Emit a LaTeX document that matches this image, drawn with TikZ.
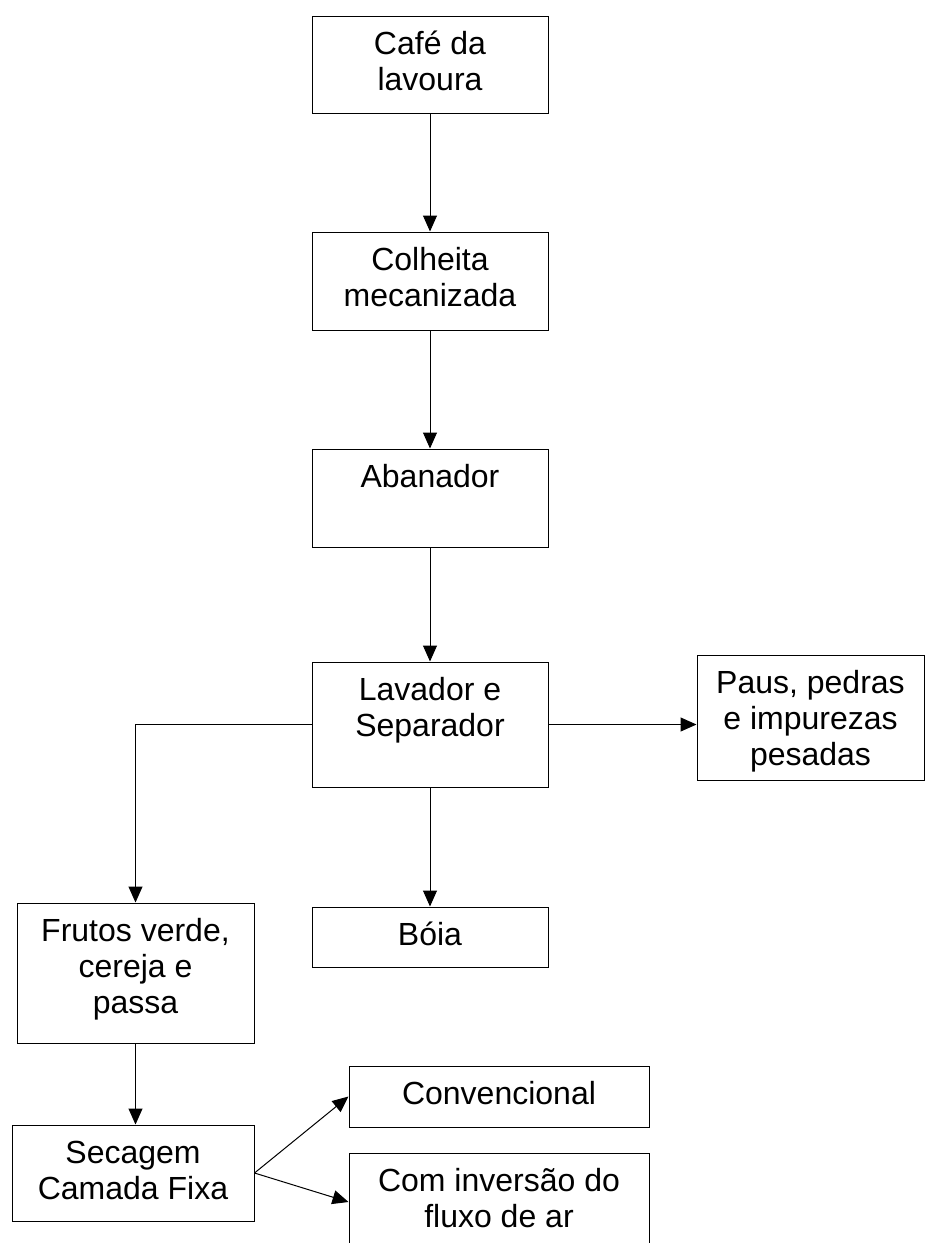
\documentclass[tikz,border=0pt]{standalone}
\usepackage{fontspec}
\setmainfont{Liberation Sans}
\usetikzlibrary{arrows.meta}
\newcommand{\boxfont}{\fontsize{32}{36}\selectfont}
\tikzset{
  blk/.style 2 args={draw, line width=1pt, inner sep=0pt,
    minimum width=#1, minimum height=#2},
  % text set from the top of the box; #1 is the shift of the last baseline
  % (first baseline 39pt below the top edge, lines 36pt apart)
  txt/.style 2 args={label={[anchor=base, align=center, inner sep=0pt,
    yshift=#1, font=\boxfont]north:{#2}}},
  arr/.style={line width=1pt, -{Triangle[length=16pt,width=14pt]}}
}
\begin{document}
\begin{tikzpicture}[x=1pt, y=-1pt]
\useasboundingbox (0,0) rectangle (925,1243);

% main column
\node[blk={236pt}{97pt}, txt={-75pt}{Café da\\lavoura}]          (cafe) at (430,64.5) {};
\node[blk={236pt}{98pt}, txt={-75pt}{Colheita\\mecanizada}]      (colh) at (430,281)  {};
\node[blk={236pt}{98pt}, txt={-39pt}{Abanador}]                  (aban) at (430,498)  {};
\node[blk={236pt}{125pt}, txt={-75pt}{Lavador e\\Separador}]     (lav)  at (430,724.5) {};
\node[blk={236pt}{60pt}, txt={-39pt}{Bóia}]                      (boia) at (430,937)  {};

% side branches
\node[blk={227pt}{125pt}, txt={-111pt}{Paus, pedras\\e impurezas\\pesadas}] (paus) at (810.5,717.5) {};
\node[blk={237pt}{140pt}, txt={-111pt}{Frutos verde,\\cereja e\\passa}]     (frut) at (135.5,973) {};
\node[blk={242pt}{96pt}, txt={-75pt}{Secagem\\Camada Fixa}]                 (sec)  at (133,1173) {};

% drying variants
\node[blk={300pt}{61pt}, txt={-39pt}{Convencional}]                  (conv) at (499,1096.5) {};
\node[blk={300pt}{120pt}, txt={-75pt}{Com inversão do\\fluxo de ar}] (inv)  at (499,1213) {};

% flow
\draw[arr] (cafe) -- (colh);
\draw[arr] (colh) -- (aban);
\draw[arr] (aban) -- (lav);
\draw[arr] (lav) -- (boia);
\draw[arr] (lav.east) -- (lav.east -| paus.west);
\draw[arr] (lav.west) -| (frut.north);
\draw[arr] (frut.south) -- (frut.south |- sec.north);
\draw[arr] (sec.east) -- (conv.west);
\draw[arr] (sec.east) -- ([yshift=11pt]inv.west);
\end{tikzpicture}
\end{document}
